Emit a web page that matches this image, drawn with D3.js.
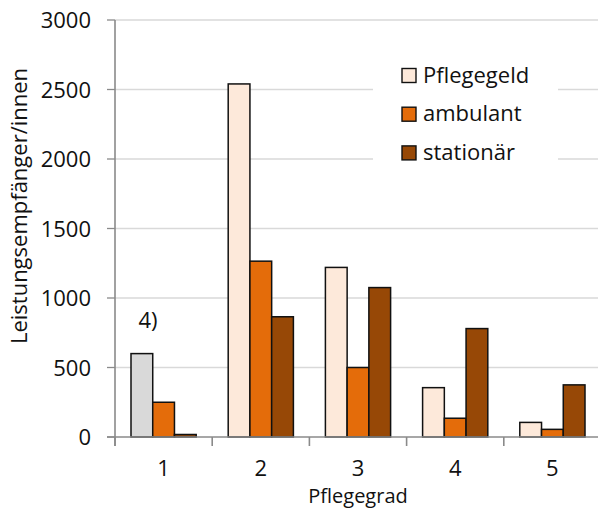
<!DOCTYPE html>
<html>
<head>
<meta charset="utf-8">
<script src="https://cdn.jsdelivr.net/npm/d3@7"></script>
<style>
  html, body { margin: 0; padding: 0; background: #fff; }
  svg { display: block; font-family: "Open Sans", "Noto Sans", sans-serif; }
</style>
</head>
<body>
<svg id="chart" width="598" height="508"></svg>
<script>
// Leistungsempfänger/innen nach Pflegegrad und Leistungsart
const categories = ["1", "2", "3", "4", "5"];
const seriesNames = ["Pflegegeld", "ambulant", "stationär"];
const pflegegeld = [600, 2540, 1220, 355, 105];
const ambulant = [250, 1265, 500, 135, 55];
const stationaer = [18, 865, 1075, 780, 375];
const yTicks = [0, 500, 1000, 1500, 2000, 2500, 3000];
const seriesColors = ["#fde9da", "#e46c0a", "#974806"];
const footnoteColor = "#d9d9d9"; // Pflegegrad 1, Fußnote 4)

const values = [pflegegeld, ambulant, stationaer];

const svg = d3.select("#chart");
const plotLeft = 115, plotRight = 601, plotTop = 20, plotBottom = 437;
const textColor = "#111";
const axisColor = "#8a8a8a";

const x = d3.scaleBand().domain(categories).range([plotLeft, plotRight]).padding(0);
const xs = d3.scaleBand().domain(seriesNames).range([16, x.bandwidth() - 16]).padding(0);
const y = d3.scaleLinear().domain([0, 3000]).range([plotBottom, plotTop]);

// Gitterlinien
svg.append("g")
  .selectAll("line")
  .data(yTicks.filter(d => d > 0))
  .join("line")
  .attr("x1", plotLeft).attr("x2", plotRight)
  .attr("y1", d => y(d)).attr("y2", d => y(d))
  .attr("stroke", "#d9d9d9").attr("stroke-width", 1.3);

// Legendenhintergrund verdeckt die Gitterlinien
svg.append("rect")
  .attr("x", 373).attr("y", 50).attr("width", 185).attr("height", 122)
  .attr("fill", "#fff");

// Balken
const rows = [];
categories.forEach((c, i) => {
  seriesNames.forEach((s, j) => {
    rows.push({ cat: c, series: s, value: values[j][i], idx: i, sIdx: j });
  });
});

svg.append("g")
  .selectAll("rect")
  .data(rows)
  .join("rect")
  .attr("x", d => x(d.cat) + xs(d.series))
  .attr("y", d => y(d.value))
  .attr("width", xs.bandwidth())
  .attr("height", d => y(0) - y(d.value))
  .attr("fill", d => (d.idx === 0 && d.sIdx === 0) ? footnoteColor : seriesColors[d.sIdx])
  .attr("stroke", "#111")
  .attr("stroke-width", 1.5);

// Y-Achse
const yAxis = svg.append("g");
yAxis.append("line")
  .attr("x1", plotLeft).attr("x2", plotLeft)
  .attr("y1", plotTop).attr("y2", plotBottom + 9)
  .attr("stroke", axisColor).attr("stroke-width", 1.6);
yAxis.selectAll("line.tick")
  .data(yTicks)
  .join("line")
  .attr("class", "tick")
  .attr("x1", plotLeft - 8).attr("x2", plotLeft)
  .attr("y1", d => y(d)).attr("y2", d => y(d))
  .attr("stroke", axisColor).attr("stroke-width", 1.3);
yAxis.selectAll("text")
  .data(yTicks)
  .join("text")
  .attr("x", 91)
  .attr("y", d => y(d) + 8)
  .attr("text-anchor", "end")
  .attr("font-size", 22)
  .attr("fill", textColor)
  .text(d => d);

// X-Achse
const xAxis = svg.append("g");
xAxis.append("line")
  .attr("x1", plotLeft - 8).attr("x2", plotRight)
  .attr("y1", plotBottom).attr("y2", plotBottom)
  .attr("stroke", axisColor).attr("stroke-width", 1.6);
const boundaries = categories.map(c => x(c)).concat([x(categories[categories.length - 1]) + x.bandwidth()]);
xAxis.selectAll("line.tick")
  .data(boundaries)
  .join("line")
  .attr("class", "tick")
  .attr("x1", d => d).attr("x2", d => d)
  .attr("y1", plotBottom).attr("y2", plotBottom + 9)
  .attr("stroke", axisColor).attr("stroke-width", 1.6);
xAxis.selectAll("text")
  .data(categories)
  .join("text")
  .attr("x", d => x(d) + x.bandwidth() / 2)
  .attr("y", 476)
  .attr("text-anchor", "middle")
  .attr("font-size", 22)
  .attr("fill", textColor)
  .text(d => d);

// Achsentitel
svg.append("text")
  .attr("x", (plotLeft + plotRight) / 2)
  .attr("y", 503)
  .attr("text-anchor", "middle")
  .attr("font-size", 20)
  .attr("fill", textColor)
  .text("Pflegegrad");

svg.append("text")
  .attr("transform", "translate(27,206) rotate(-90)")
  .attr("text-anchor", "middle")
  .attr("font-size", 22)
  .attr("fill", textColor)
  .text("Leistungsempfänger/innen");

// Fußnote über Pflegegrad 1
svg.append("text")
  .attr("x", x(categories[0]) + xs(seriesNames[0]) + 7.5)
  .attr("y", 328)
  .attr("font-size", 22)
  .attr("fill", textColor)
  .text("4)");

// Legende
const legend = svg.append("g");
seriesNames.forEach((s, j) => {
  const cy = 75.5 + j * 38.7;
  legend.append("rect")
    .attr("x", 402).attr("y", cy - 7)
    .attr("width", 14).attr("height", 14)
    .attr("fill", seriesColors[j])
    .attr("stroke", "#111").attr("stroke-width", 1.4);
  legend.append("text")
    .attr("x", 423).attr("y", cy + 7)
    .attr("font-size", 22)
    .attr("fill", textColor)
    .text(s);
});
</script>
</body>
</html>
